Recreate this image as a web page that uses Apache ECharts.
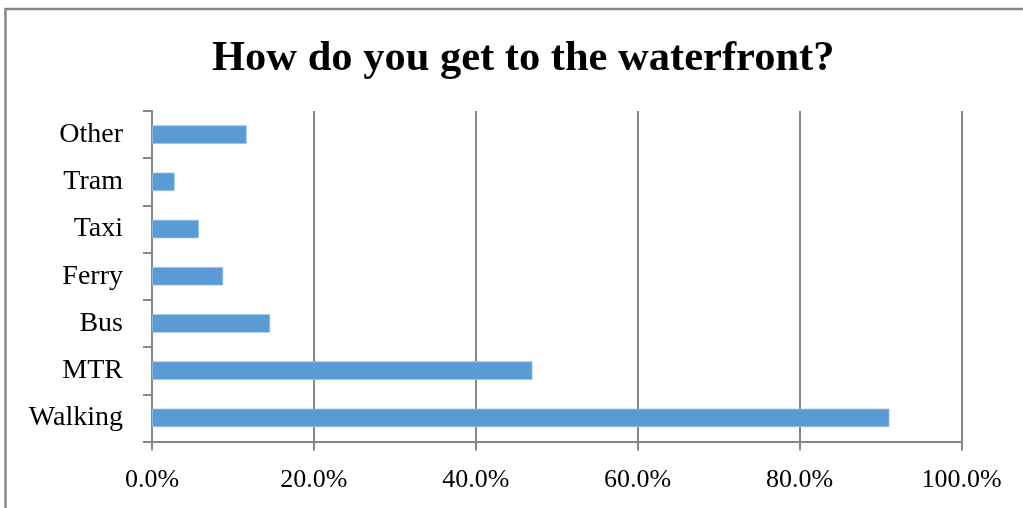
<!DOCTYPE html>
<html>
<head>
<meta charset="utf-8">
<style>
  html, body { margin: 0; padding: 0; background: #fff; }
  #chart { width: 1023px; height: 508px; }
</style>
<script src="https://cdn.jsdelivr.net/npm/echarts@6/dist/echarts.min.js"></script>
</head>
<body>
<div id="chart"></div>
<script>
// Ways of getting to the waterfront (share of respondents, %)
const categories = ['Walking', 'MTR', 'Bus', 'Ferry', 'Taxi', 'Tram', 'Other'];
const shares = [91.1, 47.0, 14.6, 8.8, 5.8, 2.8, 11.7];
const tickValues = [0, 20, 40, 60, 80, 100];

const titleText = 'How do you get to the waterfront?';
const gray = '#878787';
const serif = '"Liberation Serif", "Times New Roman", serif';

const chart = echarts.init(document.getElementById('chart'), null, { renderer: 'canvas' });

chart.setOption({
  animation: false,
  backgroundColor: '#ffffff',
  title: {
    text: titleText,
    left: 207,
    top: 33,
    textStyle: {
      fontFamily: serif,
      fontWeight: 'bold',
      fontSize: 42.5,
      color: '#000'
    }
  },
  graphic: [{
    type: 'rect',
    shape: { x: 5.5, y: 9, width: 1100, height: 600 },
    style: { fill: 'none', stroke: gray, lineWidth: 2.5 },
    silent: true
  }],
  grid: {
    left: 152,
    right: 61.5,
    top: 111,
    bottom: 66.5,
    containLabel: false
  },
  xAxis: {
    type: 'value',
    min: tickValues[0],
    max: tickValues[tickValues.length - 1],
    interval: tickValues[1] - tickValues[0],
    axisLine: { show: true, lineStyle: { color: gray, width: 2 } },
    axisTick: { show: true, length: 9, lineStyle: { color: gray, width: 2 } },
    splitLine: { show: true, lineStyle: { color: gray, width: 2 } },
    axisLabel: {
      formatter: v => v.toFixed(1) + '%',
      fontFamily: serif,
      fontSize: 26,
      color: '#000',
      margin: 26
    }
  },
  yAxis: {
    type: 'category',
    data: categories,
    axisLine: { show: true, lineStyle: { color: gray, width: 2 } },
    axisTick: { show: true, length: 9, lineStyle: { color: gray, width: 2 } },
    axisLabel: {
      fontFamily: serif,
      fontSize: 28,
      color: '#000',
      margin: 29
    }
  },
  series: [{
    type: 'bar',
    data: shares,
    barWidth: 18.5,
    itemStyle: {
      color: '#5b9bd5',
      borderColor: '#9cc3e6',
      borderWidth: 0.8
    }
  }]
});
</script>
</body>
</html>
